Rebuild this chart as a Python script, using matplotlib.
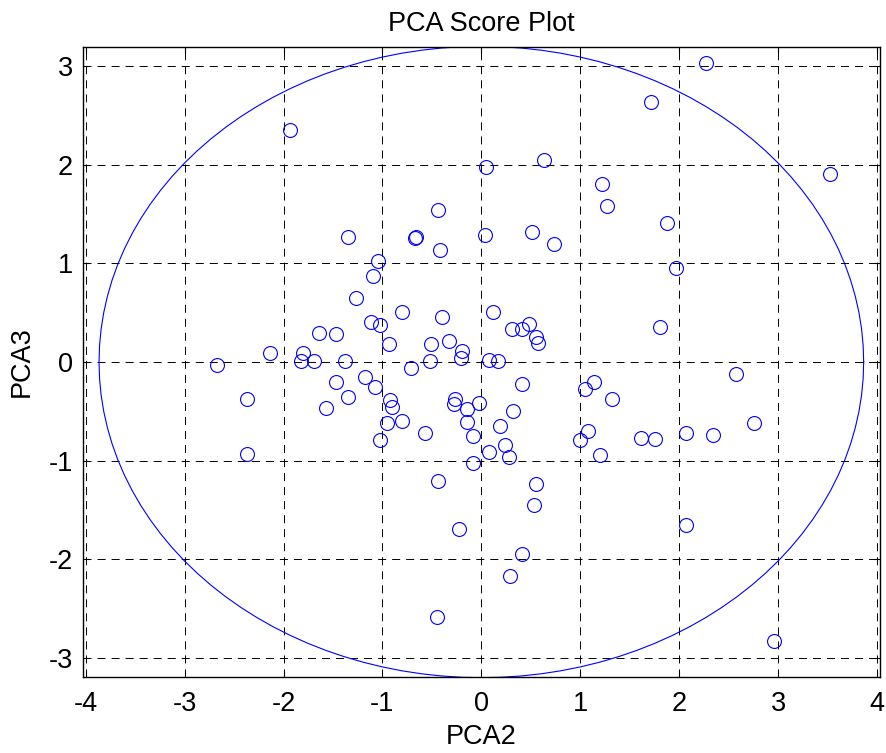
import numpy as np
import matplotlib
matplotlib.use("Agg")
import matplotlib.pyplot as plt

plt.rcParams['font.family'] = ['Liberation Sans', 'DejaVu Sans']
plt.rcParams['lines.scale_dashes'] = False

# PCA scores (PCA2, PCA3)
pca2 = [-1.936, -0.44, -1.35, -0.672, -0.658, -0.42, -1.04, -1.093, -1.265, -0.80,
        -0.402, -1.113, -1.022, -1.64, -1.474, -0.935, -0.507, -0.332, -0.20, -0.21,
        -2.141, -1.80, -1.828, -1.693, -1.383, -2.677, -0.716, -0.524, 0.046, 0.039,
        2.27, 1.718, 0.632, 3.528, 1.219, 1.273, 1.873, 0.511, 0.737, 1.964,
        0.116, 1.805, 0.305, 0.41, 0.48, 0.548, 0.568, 0.076, 0.167,
        -1.181, -1.474, -1.073, -2.367, -1.35, -1.575, -0.921, -0.901, -0.264, -0.281,
        -0.143, -0.02, -0.143, -0.089, -0.951, -0.80, -0.574, -1.022, -2.367, -0.089,
        -0.436, -0.23, -0.453,
        2.577, 0.41, 1.047, 1.134, 1.323, 0.322, 0.187, 2.752, 1.081, 0.996,
        1.617, 1.751, 2.065, 2.341, 0.238, 0.08, 0.275, 1.202, 0.548, 0.531,
        2.065, 0.41, 0.292, 2.962]
pca3 = [2.355, 1.545, 1.267, 1.254, 1.267, 1.132, 1.028, 0.869, 0.646, 0.507,
        0.456, 0.402, 0.372, 0.298, 0.281, 0.179, 0.179, 0.217, 0.111, 0.04,
        0.095, 0.091, 0.007, 0.007, 0.007, -0.03, -0.06, 0.007, 1.976, 1.284,
        3.027, 2.632, 2.044, 1.905, 1.801, 1.578, 1.406, 1.318, 1.20, 0.957,
        0.507, 0.352, 0.335, 0.338, 0.382, 0.253, 0.196, 0.024, 0.007,
        -0.152, -0.206, -0.253, -0.375, -0.358, -0.463, -0.388, -0.459, -0.375, -0.426,
        -0.479, -0.42, -0.611, -0.753, -0.614, -0.598, -0.72, -0.787, -0.929, -1.02,
        -1.206, -1.689, -2.584,
        -0.118, -0.219, -0.27, -0.206, -0.375, -0.496, -0.652, -0.614, -0.702, -0.787,
        -0.773, -0.777, -0.723, -0.74, -0.844, -0.912, -0.966, -0.946, -1.24, -1.445,
        -1.652, -1.949, -2.172, -2.828]

# confidence ellipse semi-axes
ell_a = 3.865
ell_b = 3.20

xticks = [-4, -3, -2, -1, 0, 1, 2, 3, 4]
yticks = [-3, -2, -1, 0, 1, 2, 3]

W, H = 886, 753
fig = plt.figure(figsize=(W / 100, H / 100), dpi=100)
ax = fig.add_axes([82.7 / W, (H - 676.7) / H, (880 - 82.7) / W, (676.7 - 47.3) / H])

ax.plot(pca2, pca3, linestyle='none', marker='o', markersize=10,
        markerfacecolor='none', markeredgecolor='#0000ff', markeredgewidth=0.8, zorder=3)

t = np.linspace(0, 2 * np.pi, 121)
ax.plot(ell_a * np.cos(t), ell_b * np.sin(t), color='#0000ff', lw=0.8, zorder=2)

ax.set_xlim(-4.03, 4.03)
ax.set_ylim(-3.19, 3.19)
ax.set_xticks(xticks)
ax.set_yticks(yticks)
ax.set_xticklabels([str(v) for v in xticks])
ax.set_yticklabels([str(v) for v in yticks])

ax.grid(True, color='black', linestyle=(0, (5.8, 4.3)), linewidth=0.7)
ax.set_axisbelow(True)
ax.tick_params(direction='in', length=4.3, width=0.8, top=True, right=True,
               labelsize=19.5)
ax.tick_params(axis='x', pad=10)
ax.tick_params(axis='y', pad=7)
for s in ax.spines.values():
    s.set_linewidth(1.0)

ax.set_title('PCA Score Plot', fontsize=19.5, pad=12)
ax.set_xlabel('PCA2', fontsize=19.5, va='center')
ax.set_ylabel('PCA3', fontsize=19.5, va='center')
ax.xaxis.set_label_coords(0.5, -0.0958)
ax.yaxis.set_label_coords(-0.0761, 0.5)

fig.savefig('out.png', dpi=100)
